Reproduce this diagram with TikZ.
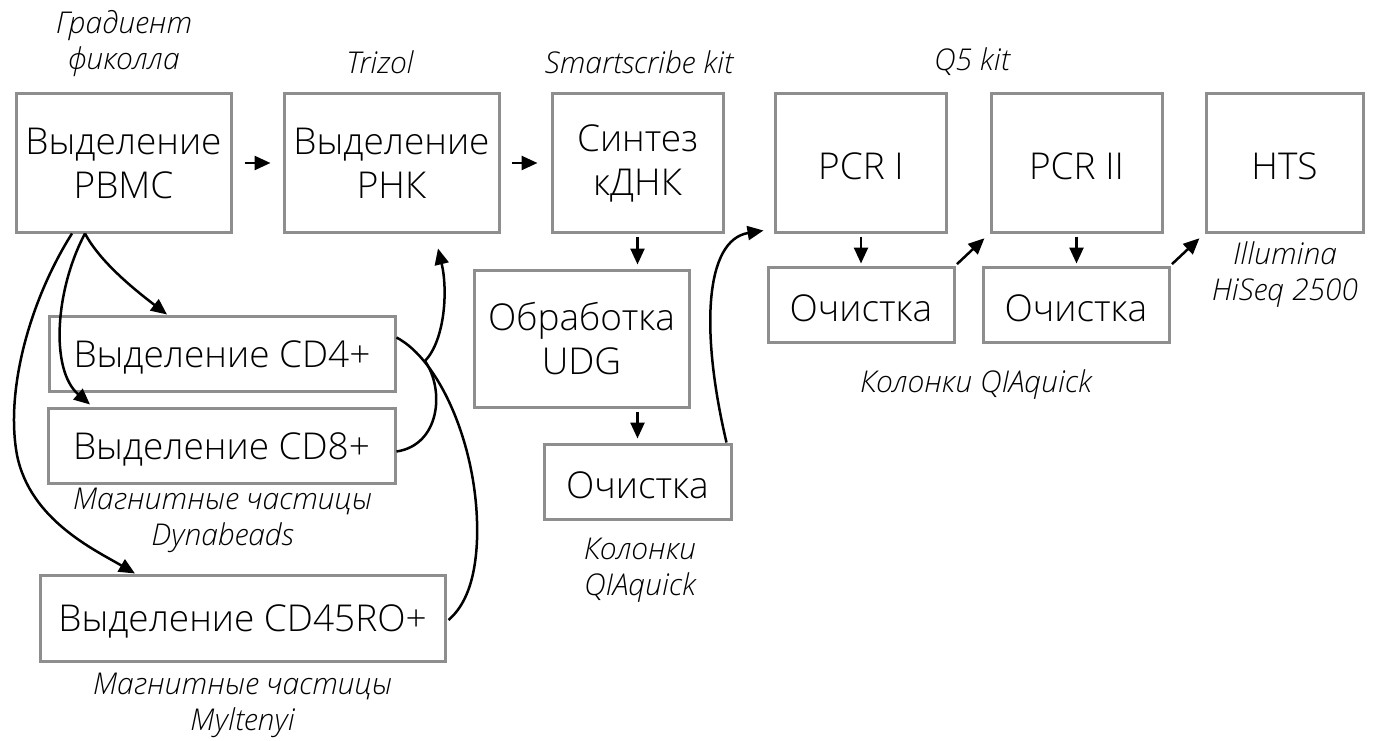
\documentclass[tikz,border=0pt]{standalone}
\usepackage{fontspec}
\setmainfont{Open Sans Light}[ItalicFont={Open Sans Light Italic}]
\usetikzlibrary{arrows.meta,calc}
\definecolor{boxgray}{HTML}{8E8E8E}
\newcommand{\lowtext}[1]{\raisebox{-3.5pt}[\height][\depth]{#1}}
\tikzset{
  box/.style={draw=boxgray, line width=3pt, inner sep=0pt, align=center, font=\fontsize{37}{44}\selectfont},
  lbl/.style={align=center, inner sep=0pt, font=\fontsize{30}{36}\selectfont\itshape},
  arr/.style={line width=2.5pt, -{Triangle[length=16pt,width=14pt]}},
  ln/.style={line width=2.5pt},
}
\begin{document}
\begin{tikzpicture}[x=1pt,y=-1pt]
\useasboundingbox (0,0) rectangle (1385,741);
% main row
\node[box, minimum width=215pt, minimum height=138pt] (pbmc) at (123.5,163) {Выделение\\PBMC};
\node[box, minimum width=215pt, minimum height=138pt] (rna) at (391.5,163) {Выделение\\РНК};
\node[box, minimum width=171pt, minimum height=138pt] (cdna) at (637.5,163) {Синтез\\кДНК};
\node[box, minimum width=171pt, minimum height=138pt] (pcr1) at (861,163) {\lowtext{PCR I}};
\node[box, minimum width=171pt, minimum height=138pt] (pcr2) at (1076.5,163) {\lowtext{PCR II}};
\node[box, minimum width=157pt, minimum height=138pt] (hts) at (1284.5,163) {\lowtext{HTS}};
% secondary boxes
\node[box, minimum width=346pt, minimum height=75pt] (cd4) at (222,353.5) {\lowtext{Выделение CD4+}};
\node[box, minimum width=347pt, minimum height=75pt] (cd8) at (221.5,445.5) {\lowtext{Выделение CD8+}};
\node[box, minimum width=405pt, minimum height=86pt] (cd45) at (242.5,618) {\lowtext{Выделение CD45RO+}};
\node[box, minimum width=215pt, minimum height=137pt] (udg) at (581.5,338.5) {Обработка\\UDG};
\node[box, minimum width=187pt, minimum height=75pt] (clA) at (637.5,481.5) {\lowtext{Очистка}};
\node[box, minimum width=186pt, minimum height=75pt] (clB) at (861,304.5) {\lowtext{Очистка}};
\node[box, minimum width=186pt, minimum height=75pt] (clC) at (1076,304.5) {\lowtext{Очистка}};
% labels
\node[lbl] (l1) at (124,44) {Градиент\\фиколла};
\node[lbl] (l2) at (380,62) {Trizol};
\node[lbl] (l3) at (639,62) {Smartscribe kit};
\node[lbl] (l4) at (972,62) {Q5 kit};
\node[lbl] (l5) at (1285,275) {Illumina\\HiSeq 2500};
\node[lbl] (l6) at (976,385) {Колонки QIAquick};
\node[lbl] (l7) at (640,570) {Колонки\\QIAquick};
\node[lbl] (l8) at (222.5,520) {Магнитные частицы\\Dynabeads};
\node[lbl] (l9) at (242.5,705) {Магнитные частицы\\Myltenyi};
% straight connectors
\draw[arr, shorten <=12pt, shorten >=12pt] (pbmc) -- (rna);
\draw[arr, shorten <=11pt, shorten >=13pt] (rna) -- (cdna);
\draw[arr, shorten <=3pt, shorten >=4pt] (cdna.south) -- (cdna.south |- udg.north);
\draw[arr, shorten <=3pt, shorten >=4pt] (clA.north |- udg.south) -- (clA.north);
\draw[arr, shorten <=3pt, shorten >=2pt] (pcr1.south) -- (pcr1.south |- clB.north);
\draw[arr, shorten <=3pt, shorten >=2pt] (pcr2.south) -- (pcr2.south |- clC.north);
\draw[arr, shorten <=2pt, shorten >=7pt] (clB.north east) -- (pcr2.south west);
\draw[arr, shorten <=2pt, shorten >=7pt] (clC.north east) -- (hts.south west);
% curve from purification to PCR I
\draw[arr] ([xshift=-6pt]clA.north east) .. controls (700,330) and (705,240) .. ([xshift=-10.5pt, yshift=3pt]pcr1.south west);
% PBMC fan-out
\draw[arr] ([xshift=-38.5pt]pbmc.south) .. controls (100,262) and (135,290) .. ([xshift=-55pt]cd4.north);
\draw[arr] ([xshift=-38.5pt]pbmc.south) .. controls (55,290) and (50,370) .. ([xshift=-131.5pt, yshift=2pt]cd8.north);
\draw[arr] ([xshift=-51.5pt]pbmc.south) .. controls (30,300) and (5,390) .. (17,455) .. controls (30,520) and (95,550) .. ([xshift=-107.5pt]cd45.north);
% merge into RNA
\coordinate (merge) at (425,361);
\draw[ln] ([yshift=16pt]cd4.east) .. controls (440,360) and (480,450) .. (477,540) .. controls (475,590) and (460,610) .. ([xshift=2pt, yshift=-2pt]cd45.east);
\draw[ln] ([yshift=-6pt]cd8.east) .. controls (440,445) and (445,390) .. (merge);
\draw[arr] (merge) .. controls (445,340) and (448,290) .. ([xshift=46.5pt, yshift=-15pt]rna.south);
\end{tikzpicture}
\end{document}
